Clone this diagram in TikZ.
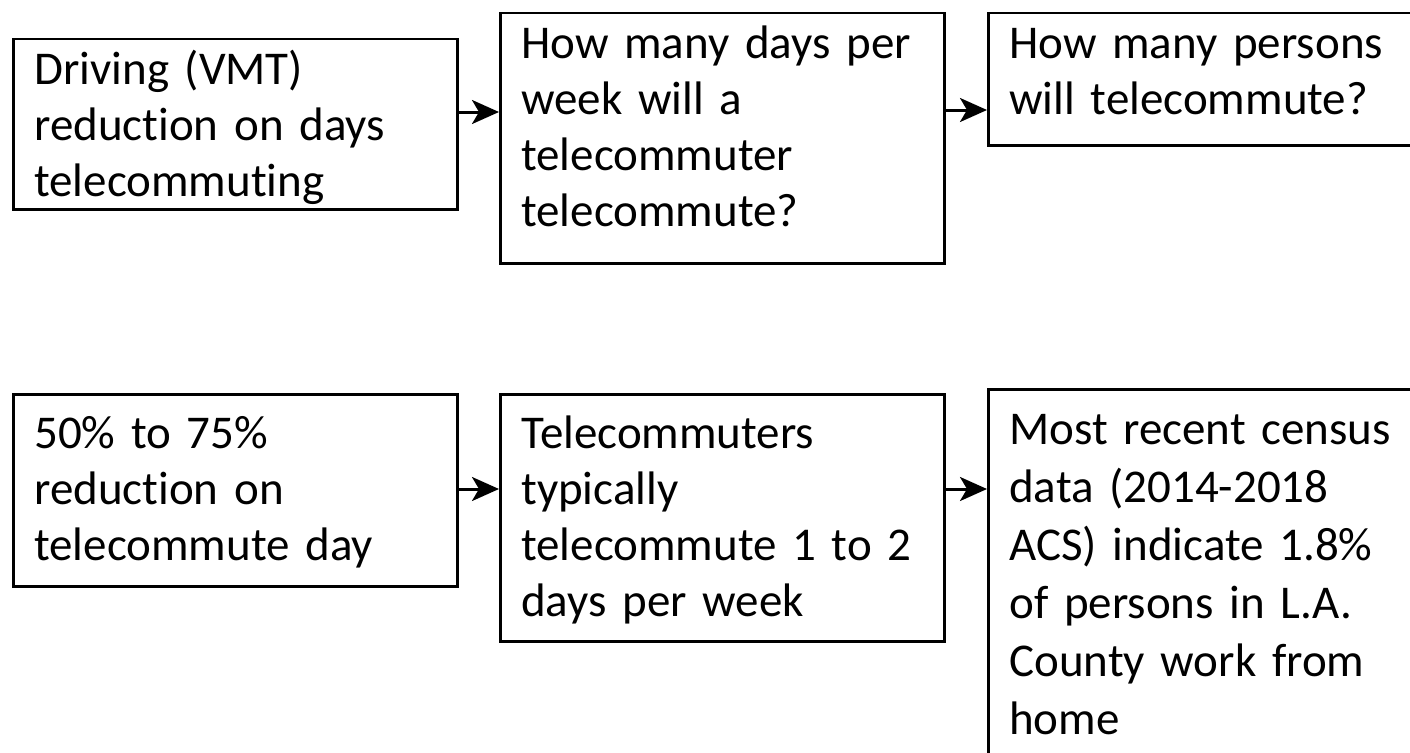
\documentclass[tikz,border=0pt]{standalone}
\usepackage{fontspec}
\setmainfont{Carlito}[Ligatures=NoCommon]
\usetikzlibrary{arrows.meta}

\begin{document}
\begin{tikzpicture}[x=1pt, y=-1pt,
	box/.style={draw, line width=2.5pt, anchor=north west, align=left,
		inner xsep=21pt, inner ysep=0pt, font=\fontsize{47}{56}\selectfont},
	flow/.style={-{Stealth[length=27pt, width=24pt, inset=7pt]}, line width=3pt}]
	
	% ---- Page frame (the right boxes run off the edge) ----
	\useasboundingbox (0,0) rectangle (1410,752);
	\clip (0,0) rectangle (1410,752);
	
	% ---- Top row: the questions ----
	\node[box, text width=402pt, text height=45pt, text depth=125pt] (drive) at (12,38)
		{Driving (VMT)\\reduction on days\\telecommuting};
	\node[box, text width=402pt, text height=45pt, text depth=205pt] (days) at (499,12)
		{How many days per\\week will a\\telecommuter\\telecommute?};
	\node[box, text width=391pt, text height=45pt, text depth=87pt] (persons) at (987,12)
		{How many persons\\will telecommute?};
	
	% ---- Bottom row: the answers ----
	\node[box, text width=402pt, text height=54pt, text depth=138pt] (cut) at (12,393)
		{50\% to 75\%\\reduction on\\telecommute day};
	\node[box, text width=402pt, text height=54pt, text depth=193pt] (typical) at (499,393)
		{Telecommuters\\typically\\telecommute 1 to 2\\days per week};
	\node[box, text width=391pt, text height=55pt, text depth=332pt, font=\fontsize{47}{58}\selectfont] (census) at (987,388)
		{Most recent census\\data (2014-2018\\ACS) indicate 1.8\%\\of persons in L.A.\\County work from\\home};
	
	% ---- Arrows between boxes ----
	\foreach \from/\to/\y in {drive/days/112, days/persons/110, cut/typical/489, typical/census/489}
	\draw[flow] (\from.east |- 0,\y) -- (\to.west |- 0,\y);
	
\end{tikzpicture}
\end{document}
